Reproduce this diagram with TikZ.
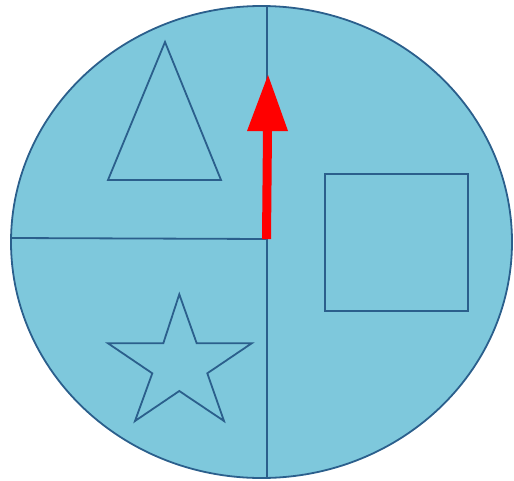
\documentclass[tikz,border=0pt]{standalone}
\definecolor{fillc}{HTML}{7EC8DC}
\definecolor{linec}{HTML}{2B5F8C}
\tikzset{outline/.style={draw=linec,line width=1.8pt,line join=miter}}
\begin{document}
\begin{tikzpicture}[x=1pt,y=-1pt]
\useasboundingbox (0,0) rectangle (514,480);
\draw[outline,fill=fillc] (261.5,242) ellipse [x radius=250.5, y radius=236];
\draw[outline] (267,6) -- (267,478);
\draw[outline] (12,238) -- (267,239);
\draw[outline] (165,42) -- (221,180) -- (108,180) -- cycle;
\draw[outline] (325,174) rectangle (468,311);
\draw[outline] (179.3,294.3) -- (196.7,343.3) -- (251.7,343.3) -- (207.3,373.3) -- (224,421) -- (179.3,391) -- (135,421) -- (152.3,373.3) -- (108,343.3) -- (163.3,343.3) -- cycle;
\coordinate (s) at (266.5,239);
\coordinate (b) at (267.5,131);
\coordinate (t) at (268,75);
\fill[red] (262,239) -- (271,239) -- (272,131) -- (288,131) -- (t) -- (247,131) -- (263,131) -- cycle;
\end{tikzpicture}
\end{document}
